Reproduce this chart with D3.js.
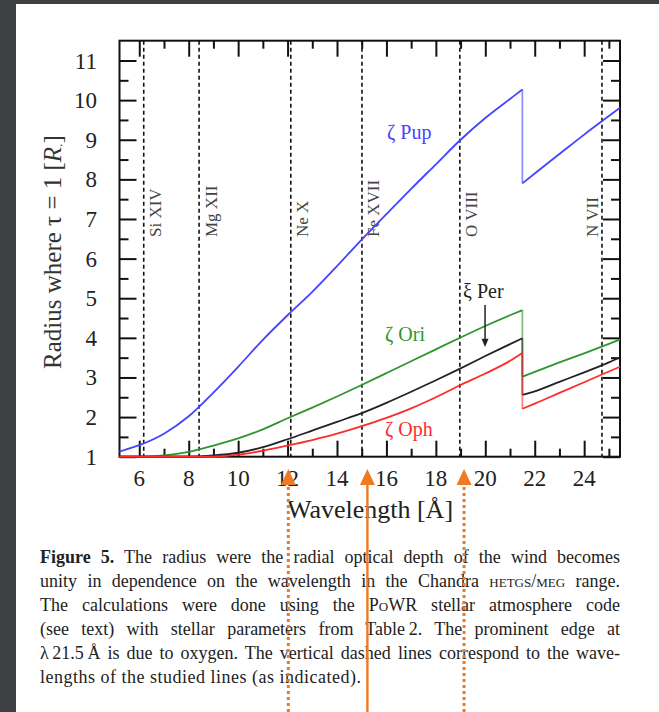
<!DOCTYPE html>
<html>
<meta charset="utf-8">
<script src="https://cdn.jsdelivr.net/npm/d3@7"></script>
<style>
  body { margin: 0; background: #fff; }
  #page { position: relative; width: 659px; height: 712px; overflow: hidden; background: #fff; }
  #caption { position: absolute; left: 40px; top: 545px; width: 580px;
    font-family: "Liberation Serif", "Times New Roman", serif; font-size: 18px;
    line-height: 24px; color: #222; }
  #caption div { text-align: justify; text-align-last: justify; white-space: nowrap; }
  #caption div.last { text-align-last: left; letter-spacing: 0.5px; }
  #caption div.tight { word-spacing: -1.5px; }
  .sc { font-variant: small-caps; }
  svg { position: absolute; left: 0; top: 0; }
</style>
<body>
<div id="page">
  <div id="caption">
    <div><b>Figure 5.</b> The radius were the radial optical depth of the wind becomes</div>
    <div>unity in dependence on the wavelength in the Chandra <span class="sc">hetgs/meg</span> range.</div>
    <div>The calculations were done using the P<span class="sc">o</span>WR stellar atmosphere code</div>
    <div>(see text) with stellar parameters from Table&#8201;2. The prominent edge at</div>
    <div class="tight">&lambda;&#8201;21.5&#8201;&Aring; is due to oxygen. The vertical dashed lines correspond to the wave-</div>
    <div class="last">lengths of the studied lines (as indicated).</div>
  </div>
  <div id="plot_area"></div>
</div>
</body>
<script>

// wavelength grid, before and after the oxygen edge at 21.5 A
var lamPre  = [5.2, 6, 7, 8, 9, 10, 11, 12, 13, 14, 15, 16, 17, 18, 19, 20, 21, 21.5];
var lamPost = [21.5, 22, 23, 24, 25, 25.45];

// radius where tau = 1
var zetaPupPre  = [1.13, 1.29, 1.58, 2.02, 2.62, 3.27, 3.95, 4.57, 5.16, 5.81, 6.48, 7.12, 7.76, 8.38, 9.00, 9.55, 10.03, 10.27];
var zetaPupPost = [7.90, 8.15, 8.64, 9.13, 9.60, 9.81];
var zetaOriPre  = [1.0, 1.0, 1.03, 1.12, 1.28, 1.46, 1.69, 1.97, 2.24, 2.52, 2.81, 3.11, 3.41, 3.71, 4.01, 4.30, 4.57, 4.70];
var zetaOriPost = [3.02, 3.14, 3.38, 3.61, 3.85, 3.96];
var xiPerPre    = [1.0, 1.0, 1.0, 1.0, 1.03, 1.10, 1.24, 1.44, 1.66, 1.88, 2.10, 2.36, 2.64, 2.93, 3.23, 3.54, 3.84, 3.99];
var xiPerPost   = [2.56, 2.65, 2.89, 3.13, 3.38, 3.51];
var zetaOphPre  = [1.0, 1.0, 1.0, 1.0, 1.0, 1.05, 1.15, 1.28, 1.42, 1.58, 1.77, 1.98, 2.22, 2.50, 2.81, 3.10, 3.42, 3.62];
var zetaOphPost = [2.21, 2.34, 2.61, 2.88, 3.15, 3.27];

// studied lines (vertical dashed)
var lineNames = ["Si XIV", "Mg XII", "Ne X", "Fe XVII", "O VIII", "N VII"];
var lineWl    = [6.18, 8.42, 12.13, 15.01, 18.97, 24.72];

// ticks
var xMajorTicks = [6, 8, 10, 12, 14, 16, 18, 20, 22, 24];
var xMinorTicks = [7, 9, 11, 13, 15, 17, 19, 21, 23, 25];
var yMajorTicks = [1, 2, 3, 4, 5, 6, 7, 8, 9, 10, 11];
var yMinorTicks = [1.5, 2.5, 3.5, 4.5, 5.5, 6.5, 7.5, 8.5, 9.5, 10.5];

// orange overlay arrows (wavelength position)
var arrowWl    = [12.03, 15.23, 19.14];
var arrowDash  = [true, false, true];

var serif = "'Liberation Serif', 'Times New Roman', serif";

var pL = 119.5, pR = 620, pT = 40.7, pB = 456.7;

var svg = d3.select("#plot_area")
  .append("svg")
    .attr("width", 659)
    .attr("height", 712);

// dark screen border
svg.append("rect").attr("x", 0).attr("y", 0).attr("width", 659).attr("height", 4).attr("fill", "#3d3f40");
svg.append("rect").attr("x", 0).attr("y", 0).attr("width", 16).attr("height", 712).attr("fill", "#3d3f40");

var x = d3.scaleLinear().domain([5.2, 25.45]).range([pL, pR]);
var y = d3.scaleLinear().domain([1, 11.5]).range([pB, pT]);

// dashed lines + labels
svg.append("g")
  .selectAll("line")
  .data(lineWl)
  .enter()
  .append("line")
    .attr("x1", function(d) { return x(d); })
    .attr("x2", function(d) { return x(d); })
    .attr("y1", pT)
    .attr("y2", pB)
    .attr("stroke", "#111")
    .attr("stroke-width", 1.6)
    .attr("stroke-dasharray", "4,3");

svg.append("g")
  .selectAll("text")
  .data(lineNames)
  .enter()
  .append("text")
    .attr("transform", function(d, i) {
      var off = (i == lineNames.length - 1) ? -3.5 : 17.5;
      return "translate(" + (x(lineWl[i]) + off) + ",237) rotate(-90)";
    })
    .style("font-family", serif)
    .style("font-size", "17px")
    .attr("fill", "#444")
    .text(function(d) { return d; });

// axes
function ax(gen, vals, size, tr) {
  var g = svg.append("g")
    .attr("transform", tr)
    .call(gen.tickValues(vals).tickSize(size).tickFormat(""));
  g.select(".domain").remove();
  g.selectAll("line").attr("stroke", "#111").attr("stroke-width", 2);
  return g;
}
ax(d3.axisBottom(x), xMajorTicks, -16, "translate(0," + pB + ")");
ax(d3.axisBottom(x), xMinorTicks, -8, "translate(0," + pB + ")");
ax(d3.axisTop(x), xMajorTicks, -16, "translate(0," + pT + ")");
ax(d3.axisTop(x), xMinorTicks, -8, "translate(0," + pT + ")");
ax(d3.axisLeft(y), yMajorTicks, -17, "translate(" + pL + ",0)");
ax(d3.axisLeft(y), yMinorTicks, -9, "translate(" + pL + ",0)");
ax(d3.axisRight(y), yMajorTicks, -17, "translate(" + pR + ",0)");
ax(d3.axisRight(y), yMinorTicks, -9, "translate(" + pR + ",0)");

// tick labels
svg.append("g")
  .selectAll("text")
  .data(xMajorTicks)
  .enter()
  .append("text")
    .attr("x", function(d) { return x(d); })
    .attr("y", 486)
    .attr("text-anchor", "middle")
    .style("font-family", serif)
    .style("font-size", "23px")
    .attr("fill", "#222")
    .text(function(d) { return d; });

svg.append("g")
  .selectAll("text")
  .data(yMajorTicks)
  .enter()
  .append("text")
    .attr("x", 97)
    .attr("y", function(d) { return y(d) + 8; })
    .attr("text-anchor", "end")
    .style("font-family", serif)
    .style("font-size", "23px")
    .attr("fill", "#222")
    .text(function(d) { return d; });

// frame
svg.append("rect")
  .attr("x", pL).attr("y", pT)
  .attr("width", pR - pL).attr("height", pB - pT)
  .attr("fill", "none")
  .attr("stroke", "#111")
  .attr("stroke-width", 2);

// curves
var series = [
  {pre: zetaPupPre, post: zetaPupPost, color: "#4444ff"},
  {pre: zetaOriPre, post: zetaOriPost, color: "#2e962e"},
  {pre: xiPerPre,   post: xiPerPost,   color: "#222222"},
  {pre: zetaOphPre, post: zetaOphPost, color: "#ff2b2b"}
];

var line = d3.line()
  .x(function(d) { return x(d[0]); })
  .y(function(d) { return y(d[1]); })
  .curve(d3.curveMonotoneX);
var straight = d3.line()
  .x(function(d) { return x(d[0]); })
  .y(function(d) { return y(d[1]); });

series.forEach(function(s) {
  var a = lamPre.map(function(l, i) { return [l, s.pre[i]]; });
  var b = lamPost.map(function(l, i) { return [l, s.post[i]]; });
  var g = svg.append("g")
    .attr("fill", "none")
    .attr("stroke", s.color)
    .attr("stroke-width", 1.8);
  g.append("path").attr("d", line(a));
  g.append("path").attr("d", straight([a[a.length - 1], b[0]])).attr("stroke-opacity", 0.6);
  g.append("path").attr("d", line(b));
});

// star labels
var labels = [
  {t: "\u03b6 Pup", px: 387, py: 139, c: "#4444ff"},
  {t: "\u03b6 Ori", px: 385, py: 341, c: "#2e962e"},
  {t: "\u03be Per", px: 463, py: 298, c: "#222"},
  {t: "\u03b6 Oph", px: 385, py: 436, c: "#ff2b2b"}
];
svg.append("g")
  .selectAll("text")
  .data(labels)
  .enter()
  .append("text")
    .attr("x", function(d) { return d.px; })
    .attr("y", function(d) { return d.py; })
    .style("font-family", serif)
    .style("font-size", "20px")
    .attr("fill", function(d) { return d.c; })
    .text(function(d) { return d.t; });

// xi Per arrow
var ax0 = x(19.99);
svg.append("line")
  .attr("x1", ax0).attr("x2", ax0)
  .attr("y1", y(4.83)).attr("y2", y(3.9))
  .attr("stroke", "#222").attr("stroke-width", 1.5);
svg.append("path")
  .attr("d", "M" + (ax0 - 3.5) + "," + y(3.98) + "L" + (ax0 + 3.5) + "," + y(3.98) + "L" + ax0 + "," + y(3.77) + "Z")
  .attr("fill", "#222");

// axis titles
svg.append("text")
  .attr("x", 370)
  .attr("y", 518)
  .attr("text-anchor", "middle")
  .style("font-family", serif)
  .style("font-size", "26px")
  .attr("fill", "#222")
  .text("Wavelength [\u00c5]");

var yt = svg.append("text")
  .attr("transform", "translate(61,252) rotate(-90)")
  .attr("text-anchor", "middle")
  .style("font-family", serif)
  .style("font-size", "25px")
  .attr("fill", "#333");
yt.append("tspan").text("Radius where \u03c4 = 1 [");
yt.append("tspan").style("font-style", "italic").text("R");
yt.append("tspan").attr("dy", 5).style("font-size", "14px").text("\u2219");
yt.append("tspan").attr("dy", -5).text("]");

// orange arrows over everything
var orange = "#ef7a22";
arrowWl.forEach(function(w, i) {
  var ax1 = x(w);
  svg.append("line")
    .attr("x1", ax1).attr("x2", ax1)
    .attr("y1", 712).attr("y2", 484)
    .attr("stroke", orange)
    .attr("stroke-width", arrowDash[i] ? 3 : 2.4)
    .attr("stroke-dasharray", arrowDash[i] ? "3,3" : null);
  svg.append("path")
    .attr("d", "M" + (ax1 - 7.5) + ",485L" + (ax1 + 7.5) + ",485L" + ax1 + ",469Z")
    .attr("fill", orange);
});

</script>
</html>
